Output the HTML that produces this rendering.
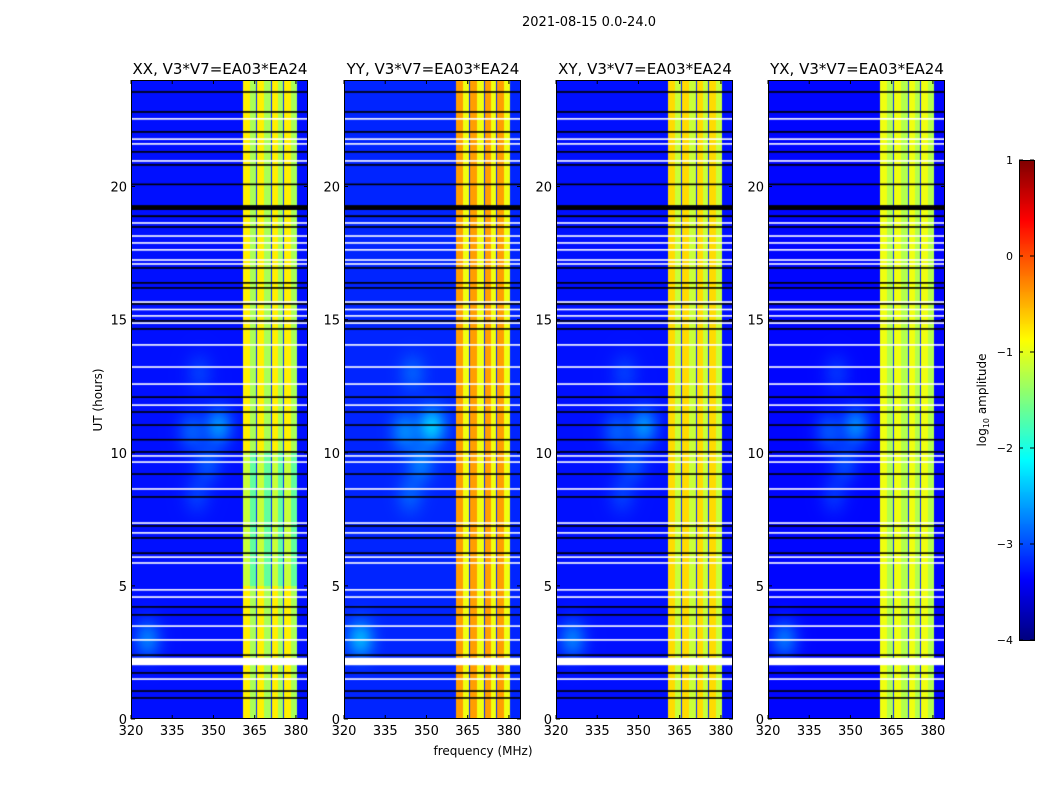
<!DOCTYPE html>
<html><head><meta charset="utf-8">
<style>
html,body{margin:0;padding:0;background:#fff;}
#root{position:relative;width:1050px;height:800px;overflow:hidden;font-family:"DejaVu Sans","Liberation Sans",sans-serif;}
canvas{position:absolute;}
svg{position:absolute;left:0;top:0;}
</style></head>
<body>
<div id="root">
<canvas id="c0" width="177" height="639" style="left:131px;top:80px"></canvas>
<canvas id="c1" width="177" height="639" style="left:344px;top:80px"></canvas>
<canvas id="c2" width="177" height="639" style="left:556px;top:80px"></canvas>
<canvas id="c3" width="177" height="639" style="left:768px;top:80px"></canvas>
<canvas id="cb" width="15" height="480" style="left:1019px;top:160px"></canvas>
<svg id="ov" width="1050" height="800"></svg>
</div>
<script>
// ---- data ----
const panelNames = ["XX","YY","XY","YX"];
const panelLefts = [131,344,556,768];
const freqTicks = [320,335,350,365,380];
const timeTicks = [0,5,10,15,20];
const cbTicks = [1,0,-1,-2,-3,-4];
const bandEdges = [360.7,365.4,370.9,375.3,380.4];
const bandWarm = [-0.8,-0.4,-0.7,-0.95];
const bandCool = [-1.3,-0.95,-1.15,-1.25];
const bgLevel = [-3.3,-3.2,-3.3,-3.35];
const blobT = [3.0,9.6,10.8,11.0,13.0,8.4];
const blobF = [326,348,342,352,345,344];
const blobAmp = [0.5,0.3,0.35,0.6,0.2,0.2];
const whiteTimes = [22.54,21.78,21.60,20.96,18.63,18.14,17.88,17.62,17.24,17.09,15.66,15.38,15.14,14.87,14.05,13.22,12.58,11.79,9.88,9.65,8.64,7.36,6.99,6.08,5.86,4.85,4.58,3.49,2.97,1.50];
const whiteBands = [[2.02,2.30]];
const blackTimes = [23.55,22.80,22.05,21.30,20.81,20.08,18.48,16.94,16.38,16.19,15.59,14.95,14.65,12.09,11.53,11.04,10.49,10.03,9.20,8.34,7.25,6.80,6.23,4.21,3.91,2.40,1.73,1.05,0.79];
const blackBands = [[19.12,19.30],[18.85,18.92]];

// ---- scales ----
const W=177,H=639,F0=320,F1=384.4,T0=0,T1=24,TOP=80;
const fx = f => (f-F0)/(F1-F0)*W;
const ty = t => H - (t-T0)/(T1-T0)*H;
const cl = v => Math.max(0,Math.min(1,v));
function jet(v){const x=cl((v+4)/5);return [cl(1.5-Math.abs(4*x-3))*255,cl(1.5-Math.abs(4*x-2))*255,cl(1.5-Math.abs(4*x-1))*255];}

function value(p,f,t){
  let v=bgLevel[p];
  for(let i=0;i<blobT.length;i++){
    const d=((t-blobT[i])/0.7)**2+((f-blobF[i])/5)**2;
    v+=blobAmp[i]*(p===1?1.3:1)*Math.exp(-d);
  }
  if(f>=bandEdges[0]&&f<bandEdges[bandEdges.length-1]){
    for(let k=0;k<bandEdges.length-1;k++){
      const a=bandEdges[k],b=bandEdges[k+1];
      if(f>=a&&f<b){
        if(f<a+0.45&&k>0) return -3.2;
        const frac=(f-a)/(b-a);
        v=frac<0.55?bandWarm[p]:bandCool[p];
        if(p===0&&t>5&&t<10) v-=0.35;
      }
    }
  }
  return v;
}

for(let p=0;p<4;p++){
  const c=document.getElementById('c'+p),ctx=c.getContext('2d');
  const img=ctx.createImageData(W,H);
  for(let py=0;py<H;py++){
    const t=(H-py-0.5)/H*24;
    for(let px=0;px<W;px++){
      const f=F0+(px+0.5)/W*(F1-F0);
      const col=jet(value(p,f,t));
      const i=(py*W+px)*4;
      img.data[i]=col[0];img.data[i+1]=col[1];img.data[i+2]=col[2];img.data[i+3]=255;
    }
  }
  ctx.putImageData(img,0,0);
  ctx.fillStyle='#000';
  blackTimes.forEach(t=>ctx.fillRect(0,ty(t)-0.8,W,1.6));
  blackBands.forEach(b=>ctx.fillRect(0,ty(b[1]),W,ty(b[0])-ty(b[1])));
  ctx.fillStyle='#fff';
  whiteTimes.forEach(t=>ctx.fillRect(0,ty(t)-0.8,W,1.6));
  whiteBands.forEach(b=>ctx.fillRect(0,ty(b[1]),W,ty(b[0])-ty(b[1])));
}
// colorbar
(function(){
  const ctx=document.getElementById('cb').getContext('2d');
  for(let y=0;y<480;y++){const v=1-(y+0.5)/480*5;const c=jet(v);ctx.fillStyle=`rgb(${c[0]|0},${c[1]|0},${c[2]|0})`;ctx.fillRect(0,y,15,1);}
})();

// ---- overlay ----
const NS='http://www.w3.org/2000/svg',ov=document.getElementById('ov');
function mk(tag,attrs,txt){const e=document.createElementNS(NS,tag);for(const k in attrs)e.setAttribute(k,attrs[k]);if(txt!==undefined)e.textContent=txt;ov.appendChild(e);return e;}
let e=mk('text',{x:589,y:26,'text-anchor':'middle','font-size':13},'2021-08-15 0.0-24.0');


for(let p=0;p<4;p++){
  const L=panelLefts[p];
  e=mk('text',{x:L+W/2+0.5,y:74,'text-anchor':'middle','font-size':15},panelNames[p]+', V3*V7=EA03*EA24');
  
  
  e=mk('rect',{x:L+0.5,y:TOP+0.5,width:W-1,height:H-1,fill:'none',stroke:'#000','stroke-width':1});
  
  
  freqTicks.forEach(f=>{
    const x=L+fx(f);
    mk('line',{x1:x,y1:TOP+H,x2:x,y2:TOP+H-4,stroke:'#000'});
    mk('line',{x1:x,y1:TOP,x2:x,y2:TOP+4,stroke:'#000'});
    e=mk('text',{x:x,y:TOP+H+16,'text-anchor':'middle','font-size':13},String(f));
    
    
  });
  timeTicks.forEach(t=>{
    const y=TOP+ty(t);
    mk('line',{x1:L,y1:y,x2:L+4,y2:y,stroke:'#000'});
    mk('line',{x1:L+W,y1:y,x2:L+W-4,y2:y,stroke:'#000'});
    e=mk('text',{x:L-4,y:y+5,'text-anchor':'end','font-size':13},String(t));
    
    
  });
}
e=mk('text',{x:483,y:755,'text-anchor':'middle','font-size':12},'frequency (MHz)');


e=mk('text',{x:0,y:0,'text-anchor':'middle','font-size':12,transform:'translate(102,400) rotate(-90)'},'UT (hours)');


e=mk('rect',{x:1019.5,y:160.5,width:15,height:480,fill:'none',stroke:'#000'});


cbTicks.forEach(v=>{
  const y=160+(1-v)/5*480;
  mk('line',{x1:1019,y1:y,x2:1023,y2:y,stroke:'#000'});
  mk('line',{x1:1034,y1:y,x2:1030,y2:y,stroke:'#000'});
  e=mk('text',{x:1013,y:y+4,'text-anchor':'end','font-size':11},v<0?'\u2212'+(-v):String(v));
  
  
});
e=mk('text',{x:0,y:0,'text-anchor':'middle','font-size':12,transform:'translate(986,400) rotate(-90)'});


const t1=document.createElementNS(NS,'tspan');t1.textContent='log';e.appendChild(t1);
const t2=document.createElementNS(NS,'tspan');t2.setAttribute('font-size',8);t2.setAttribute('dy',3);t2.textContent='10';e.appendChild(t2);
const t3=document.createElementNS(NS,'tspan');t3.setAttribute('dy',-3);t3.textContent=' amplitude';e.appendChild(t3);
</script>
</body></html>
